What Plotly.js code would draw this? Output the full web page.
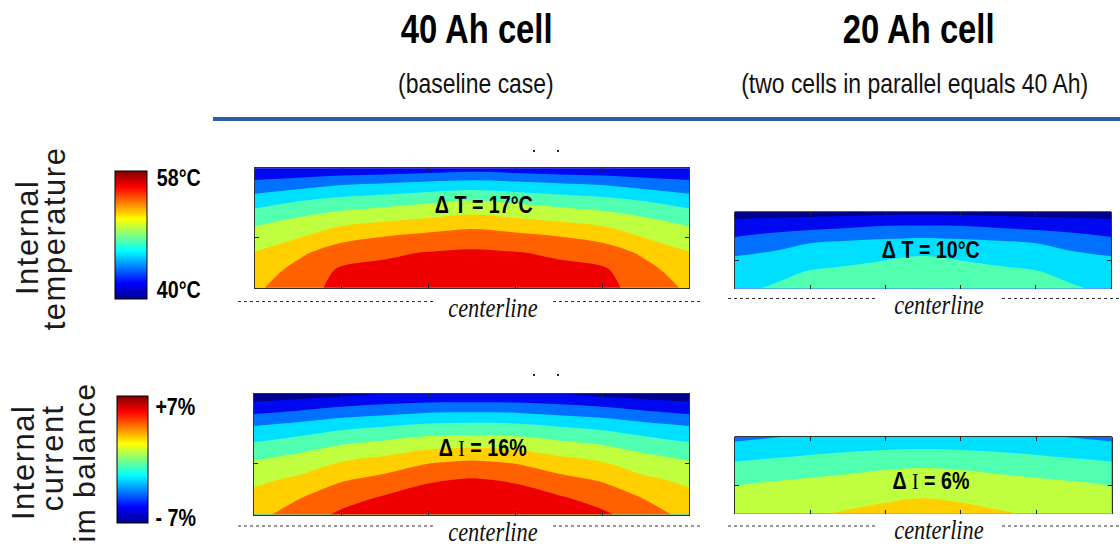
<!DOCTYPE html>
<html><head><meta charset="utf-8">
<script src="https://cdn.plot.ly/plotly-3.0.1.min.js"></script>
<style>html,body{margin:0;padding:0;background:#fff;} #chart{width:1120px;height:546px;}</style>
</head><body><div id="chart"></div>
<script>
// ---------------- data ----------------
const cellTitles = ['40 Ah cell', '20 Ah cell'];
const cellSubtitles = ['(baseline case)', '(two cells in parallel equals 40 Ah)'];
const rowLabelsTemp = ['Internal', 'temperature'];
const rowLabelsCurr = ['Internal', 'current', 'im balance'];
const tempBarLabels = ['58°C', '40°C'];
const currBarLabels = ['+7%', '- 7%'];
const tempRange = [40, 58];
const currRange = [-7, 7];
const deltaLabels = ['Δ T = 17°C', 'Δ T = 10°C',
  'Δ <span style="font-family:Liberation Serif;font-weight:normal">I</span> = 16%',
  'Δ <span style="font-family:Liberation Serif;font-weight:normal">I</span> = 6%'];
const centerlineLabel = 'centerline';

// grid positions (cell width units, centerline at y = 0)
const xPos = [0, 0.5, 1, 1.5, 2, 2.5, 3, 3.5, 4, 4.5, 5];
const yPosT40 = [0, 0.2, 0.4, 0.6, 0.8, 1.0, 1.2, 1.371];
const yPosT20 = [0, 0.2, 0.4, 0.6, 0.8, 1.016];
const yPosI40 = [0, 0.2, 0.4, 0.6, 0.8, 1.0, 1.2, 1.38];
const yPosI20 = [0, 0.2, 0.4, 0.6, 0.8, 1.016];

// internal temperature, 40 Ah cell (°C)
const temp40 = [
  [53.6, 55.3, 56.5, 57.0, 57.3, 57.5, 57.3, 57.0, 56.5, 55.3, 53.6],
  [52.9, 54.6, 56.3, 56.5, 56.8, 56.9, 56.8, 56.5, 56.3, 54.6, 52.9],
  [52.1, 53.6, 55.1, 55.7, 56.1, 56.3, 56.1, 55.7, 55.1, 53.6, 52.1],
  [50.9, 51.7, 53.2, 53.9, 54.4, 54.9, 54.4, 53.9, 53.2, 51.7, 50.9],
  [49.2, 50.1, 51.0, 51.5, 52.0, 52.5, 52.0, 51.5, 51.0, 50.1, 49.2],
  [47.0, 47.9, 48.6, 49.1, 49.6, 50.0, 49.6, 49.1, 48.6, 47.9, 47.0],
  [44.5, 45.0, 45.7, 46.0, 46.4, 46.7, 46.4, 46.0, 45.7, 45.0, 44.5],
  [42.1, 42.2, 42.4, 42.6, 42.9, 43.2, 42.9, 42.6, 42.4, 42.2, 42.1]
];
// internal temperature, 20 Ah cell (°C)
const temp20 = [
  [47.6, 48.2, 48.6, 49.0, 49.3, 49.6, 49.3, 49.0, 48.6, 48.2, 47.6],
  [46.9, 47.5, 48.2, 48.4, 48.6, 48.8, 48.6, 48.4, 48.2, 47.5, 46.9],
  [46.2, 46.6, 47.2, 47.6, 47.9, 48.2, 47.9, 47.6, 47.2, 46.6, 46.2],
  [44.7, 45.3, 46.0, 46.4, 46.6, 46.8, 46.6, 46.4, 46.0, 45.3, 44.7],
  [43.0, 43.4, 43.7, 44.0, 44.4, 44.5, 44.4, 44.0, 43.7, 43.4, 43.0],
  [41.2, 41.2, 41.2, 41.3, 41.4, 41.4, 41.4, 41.3, 41.2, 41.2, 41.2]
];
// internal current imbalance, 40 Ah cell (%)
const curr40 = [
  [3.0, 4.2, 5.25, 5.9, 6.3, 6.5, 6.3, 5.9, 5.25, 4.2, 3.0],
  [2.4, 3.35, 4.41, 5.12, 5.6, 5.81, 5.6, 5.12, 4.41, 3.35, 2.4],
  [1.67, 2.25, 3.33, 3.98, 4.82, 5.11, 4.82, 3.98, 3.33, 2.25, 1.67],
  [0.62, 1.19, 2.03, 2.56, 3.36, 3.68, 3.36, 2.56, 2.03, 1.19, 0.62],
  [-0.76, -0.21, 0.47, 0.94, 1.46, 1.61, 1.46, 0.94, 0.47, -0.21, -0.76],
  [-2.36, -1.88, -1.31, -0.93, -0.5, -0.38, -0.5, -0.93, -1.31, -1.88, -2.36],
  [-4.54, -4.12, -3.54, -3.24, -2.92, -2.84, -2.92, -3.24, -3.54, -4.12, -4.54],
  [-6.4, -6.19, -5.89, -5.4, -5.3, -5.3, -5.3, -5.4, -5.89, -6.19, -6.4]
];
// internal current imbalance, 20 Ah cell (%)
const curr20 = [
  [1.6, 1.75, 1.85, 2.15, 2.4, 2.55, 2.4, 2.15, 1.85, 1.75, 1.6],
  [1.01, 1.18, 1.32, 1.55, 1.84, 2.02, 1.84, 1.55, 1.32, 1.18, 1.01],
  [0.38, 0.61, 0.79, 0.95, 1.14, 1.25, 1.14, 0.95, 0.79, 0.61, 0.38],
  [-0.55, -0.31, -0.02, 0.21, 0.41, 0.51, 0.41, 0.21, -0.02, -0.31, -0.55],
  [-1.61, -1.39, -1.15, -0.94, -0.77, -0.68, -0.77, -0.94, -1.15, -1.39, -1.61],
  [-2.89, -2.6, -2.3, -2.2, -2.1, -2.05, -2.1, -2.2, -2.3, -2.6, -2.89]
];
const tempLevels = {start: 42, end: 56, size: 2};
const currLevels = {start: -5.5, end: 5, size: 1.5};
const xTickVals = [1, 2, 3, 4];
const yTickVals = [0.571, 0.377, 0.586, 0.367];

// ---------------- styles ----------------
const W = 1120, H = 546;
const px = x => x / W;
const py = y => 1 - y / H;
const SANS = "'Liberation Sans', Arial, sans-serif";
const SERIF = "'Liberation Serif', 'Times New Roman', serif";
const jet = [[0, '#00008f'], [0.125, '#0000ff'], [0.375, '#00ffff'], [0.625, '#ffff00'], [0.875, '#ff0000'], [1, '#800000']];
const bandColors = ['#00008f', '#0008f0', '#0070ff', '#00dfff', '#50ffaf', '#bfff40', '#ffcf00', '#ff6000', '#ef0000'];
const bandScale = bandColors.map((c, i) => [i / (bandColors.length - 1), c]);

function contour(x, y, z, lv, xa, ya) {
  return {type: 'contour', x: x, y: y, z: z, xaxis: xa, yaxis: ya,
    colorscale: bandScale, autocontour: false,
    contours: {start: lv.start, end: lv.end, size: lv.size, coloring: 'fill', showlines: false},
    line: {width: 0, smoothing: 1}, showscale: false, hoverinfo: 'skip'};
}
function barTrace(range, xa, ya, cb) {
  return {type: 'heatmap', x: [10, 11], y: [10], z: [[range[0], range[1]]], xaxis: xa, yaxis: ya,
    zmin: range[0], zmax: range[1], colorscale: jet, hoverinfo: 'skip',
    colorbar: Object.assign({xanchor: 'left', yanchor: 'middle', lenmode: 'pixels', thicknessmode: 'pixels',
      xpad: 0, ypad: 0, outlinewidth: 1, outlinecolor: '#000', borderwidth: 0, showticklabels: false, ticks: ''}, cb)};
}

const traces = [
  contour(xPos, yPosT40, temp40, tempLevels, 'x', 'y'),
  contour(xPos, yPosT20, temp20, tempLevels, 'x2', 'y2'),
  contour(xPos, yPosI40, curr40, currLevels, 'x3', 'y3'),
  contour(xPos, yPosI20, curr20, currLevels, 'x4', 'y4'),
  barTrace(tempRange, 'x', 'y', {x: px(115.3), y: py(235), len: 128, thickness: 32}),
  barTrace(currRange, 'x3', 'y3', {x: px(116.7), y: py(459.3), len: 126.7, thickness: 31})
];

function xAx(d0, d1, anchor, line) {
  return {domain: [px(d0), px(d1)], range: [0, 5], anchor: anchor, showgrid: false, zeroline: false,
    showticklabels: false, ticks: 'inside', ticklen: 4, tickcolor: '#222', tickvals: xTickVals,
    showline: line, linecolor: '#333', linewidth: 1, mirror: 'ticks', fixedrange: true};
}
function yAx(top, bottom, r, tv, anchor) {
  return {domain: [py(bottom), py(top)], range: [0, r], anchor: anchor, showgrid: false, zeroline: false,
    showticklabels: false, ticks: 'inside', ticklen: 4, tickcolor: '#222', tickvals: [tv],
    showline: true, linecolor: '#333', linewidth: 1, mirror: 'ticks', fixedrange: true};
}

// annotations; "sq" = horizontal squeeze (narrow / condensed face)
const annSpecs = [];
function ann(text, x, y, font, sq, extra) {
  annSpecs.push(sq || 1);
  return Object.assign({text: text, x: px(x), y: py(y), xref: 'paper', yref: 'paper',
    xanchor: 'center', yanchor: 'middle', showarrow: false, font: font}, extra || {});
}
const boldN = s => ({family: SANS, size: s, color: '#000', weight: 700});
const annotations = [
  ann(cellTitles[0], 476, 29, boldN(40), 0.82),
  ann(cellTitles[1], 918, 29, boldN(40), 0.82),
  ann(cellSubtitles[0], 476, 83, {family: SANS, size: 28, color: '#111'}, 0.82),
  ann(cellSubtitles[1], 914, 83, {family: SANS, size: 28, color: '#111'}, 0.82),
  ann(tempBarLabels[0], 178.5, 178, boldN(24), 0.82),
  ann(tempBarLabels[1], 178.5, 289, boldN(24), 0.82),
  ann(currBarLabels[0], 175, 406, boldN(24), 0.82),
  ann(currBarLabels[1], 175, 517, boldN(24), 0.82),
  ann(deltaLabels[0], 483.5, 204, boldN(24), 0.82),
  ann(deltaLabels[1], 931, 250, boldN(24), 0.82),
  ann(deltaLabels[2], 482, 447, boldN(24), 0.82),
  ann(deltaLabels[3], 931, 480, boldN(24), 0.82),
  ann(centerlineLabel, 493, 307, {family: SERIF, size: 28, color: '#111', style: 'italic'}, 0.8),
  ann(centerlineLabel, 939, 304, {family: SERIF, size: 28, color: '#111', style: 'italic'}, 0.8),
  ann(centerlineLabel, 493, 531, {family: SERIF, size: 28, color: '#111', style: 'italic'}, 0.8),
  ann(centerlineLabel, 939, 529, {family: SERIF, size: 28, color: '#111', style: 'italic'}, 0.8),
  ann(rowLabelsTemp[0], 27, 238, {family: SANS, size: 31, color: '#1a1a1a'}, 1, {textangle: -90}),
  ann(rowLabelsTemp[1], 54, 239, {family: SANS, size: 31, color: '#1a1a1a'}, 1, {textangle: -90}),
  ann(rowLabelsCurr[0], 23, 463, {family: SANS, size: 31, color: '#1a1a1a'}, 1, {textangle: -90}),
  ann(rowLabelsCurr[1], 52, 458, {family: SANS, size: 31, color: '#1a1a1a'}, 1, {textangle: -90}),
  ann(rowLabelsCurr[2], 84, 463, {family: SANS, size: 30, color: '#1a1a1a'}, 1, {textangle: -90})
];

function hline(x0, x1, y, color, width, dash) {
  return {type: 'line', xref: 'paper', yref: 'paper', x0: px(x0), x1: px(x1), y0: py(y), y1: py(y),
    line: {color: color, width: width, dash: dash || 'solid'}, layer: 'above'};
}
function dot(x, y) {
  return {type: 'rect', xref: 'paper', yref: 'paper', x0: px(x - 1), x1: px(x + 1), y0: py(y + 1), y1: py(y - 1),
    line: {width: 0}, fillcolor: '#222'};
}
const shapes = [
  hline(213, 1120, 119, '#2b5ea6', 4),
  hline(238, 433, 301.5, '#333', 1, '3px,3px'), hline(553, 700, 301.5, '#333', 1, '3px,3px'),
  hline(728, 875, 298.5, '#333', 1, '3px,3px'), hline(1002, 1120, 298.5, '#333', 1, '3px,3px'),
  hline(238, 435, 526, '#333', 1, '3px,3px'), hline(553, 700, 526, '#333', 1, '3px,3px'),
  hline(728, 877, 526, '#333', 1, '3px,3px'), hline(1002, 1120, 526, '#333', 1, '3px,3px'),
  {type: 'line', xref: 'x2 domain', yref: 'y2 domain', x0: 0, x1: 1, y0: 1, y1: 1, line: {color: '#333', width: 1}},
  {type: 'line', xref: 'x4 domain', yref: 'y4 domain', x0: 0, x1: 1, y0: 1, y1: 1, line: {color: '#333', width: 1}},
  dot(534, 151), dot(558, 151), dot(534, 375), dot(558, 375)
];

const layout = {
  width: W, height: H, margin: {l: 0, r: 0, t: 0, b: 0, pad: 0, autoexpand: false},
  paper_bgcolor: '#fff', plot_bgcolor: '#fff', showlegend: false,
  xaxis: xAx(254.7, 689.3, 'y', true), yaxis: yAx(168.3, 287.7, 1.371, yTickVals[0], 'x'),
  xaxis2: xAx(734.7, 1111.2, 'y2', false), yaxis2: yAx(211.7, 288.5, 1.016, yTickVals[1], 'x2'),
  xaxis3: xAx(254, 689.3, 'y3', true), yaxis3: yAx(394, 514.5, 1.38, yTickVals[2], 'x3'),
  xaxis4: xAx(734.7, 1111.7, 'y4', false), yaxis4: yAx(436.5, 513.5, 1.016, yTickVals[3], 'x4'),
  annotations: annotations, shapes: shapes
};

Plotly.newPlot('chart', traces, layout, {staticPlot: true, displayModeBar: false}).then(function () {
  document.querySelectorAll('g.annotation').forEach(function (g) {
    const i = +g.getAttribute('data-index');
    const t = g.querySelector('text.annotation-text');
    if (!t) return;
    const f = annSpecs[i];
    if (f !== 1) {
      t.style.transformBox = 'fill-box';
      t.style.transformOrigin = 'center';
      t.style.transform = 'scaleX(' + f + ')';
    } else {
      t.style.letterSpacing = '1.5px';
    }
  });
});
</script>
</body></html>
